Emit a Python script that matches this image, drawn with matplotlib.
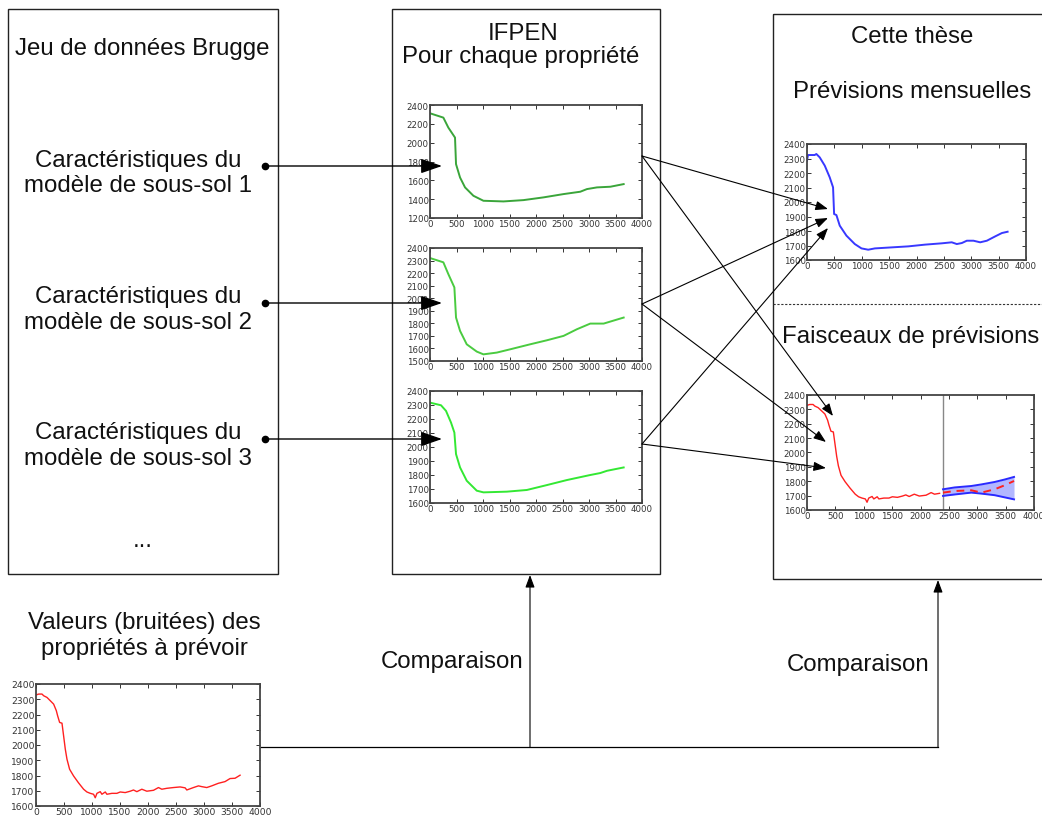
import matplotlib
matplotlib.use('Agg')
import matplotlib.pyplot as plt
from matplotlib.patches import Rectangle

W, H = 1042, 820

# - Data
# -- IFPEN model 1
m1_x = [0, 252, 346, 472, 491, 567, 661, 819, 1008, 1386, 1764, 2142, 2520, 2835, 2961, 3150, 3402, 3654]
m1_y = [2312, 2266, 2160, 2054, 1772, 1630, 1525, 1436, 1383, 1376, 1390, 1419, 1454, 1479, 1507, 1525, 1532, 1560]
# -- IFPEN model 2
m2_x = [0, 252, 346, 460, 491, 567, 693, 882, 1008, 1260, 1512, 1890, 2205, 2520, 2772, 3024, 3276, 3654]
m2_y = [2320, 2286, 2192, 2086, 1846, 1740, 1633, 1575, 1553, 1567, 1593, 1633, 1665, 1700, 1753, 1798, 1798, 1846]
# -- IFPEN model 3
m3_x = [0, 208, 302, 397, 460, 491, 567, 693, 882, 1008, 1449, 1827, 2205, 2583, 3024, 3213, 3339, 3654]
m3_y = [2317, 2298, 2258, 2174, 2103, 1949, 1854, 1759, 1688, 1676, 1681, 1693, 1728, 1764, 1800, 1814, 1830, 1854]
# -- monthly forecast (this thesis)
fc_x = [0, 18, 140, 171, 232, 324, 415, 476, 495, 537, 598, 720, 873, 995, 1118, 1240, 1545, 1850,
        2156, 2461, 2644, 2736, 2828, 2919, 3041, 3163, 3285, 3438, 3560, 3664]
fc_y = [2285, 2324, 2324, 2331, 2308, 2251, 2170, 2101, 1917, 1910, 1837, 1768, 1710, 1680, 1671, 1680, 1687, 1694,
        1706, 1715, 1722, 1710, 1717, 1733, 1733, 1722, 1733, 1763, 1786, 1795]
# -- noisy observed values
obs_x = [0, 48, 107, 137, 196, 256, 315, 363, 386, 422, 464, 493, 523, 553, 600, 671, 757, 850, 909, 969,
         1028, 1058, 1088, 1147, 1177, 1237, 1266, 1355, 1444, 1504, 1593, 1682, 1741, 1801, 1890, 1979,
         2098, 2187, 2247, 2336, 2455, 2574, 2663, 2693, 2812, 2901, 2960, 3049, 3138, 3257, 3376, 3465,
         3555, 3644]
obs_y = [2328, 2334, 2334, 2323, 2312, 2290, 2268, 2225, 2192, 2148, 2143, 2060, 1973, 1907, 1841, 1797,
         1753, 1710, 1692, 1683, 1677, 1654, 1683, 1694, 1677, 1692, 1677, 1683, 1683, 1692, 1688, 1697,
         1705, 1694, 1710, 1697, 1703, 1721, 1710, 1716, 1721, 1725, 1719, 1705, 1721, 1732, 1727, 1721,
         1732, 1749, 1760, 1780, 1782, 1802]
# -- forecast bundle after 2400 days
bundle_x = [2397, 2602, 2896, 3073, 3307, 3483, 3648]
bundle_mid = [1721, 1732, 1737, 1721, 1744, 1772, 1802]
bundle_up = [1744, 1757, 1767, 1778, 1795, 1812, 1830]
bundle_low = [1698, 1708, 1721, 1714, 1703, 1688, 1674]
cut_day = 2400

x_ticks = [0, 500, 1000, 1500, 2000, 2500, 3000, 3500, 4000]


def add_plot(fig, l, t, r, b, ymin, ystep, fs=6.2):
    ax = fig.add_axes([l / W, 1 - b / H, (r - l) / W, (b - t) / H])
    ax.set_xlim(0, 4000)
    ax.set_ylim(ymin, 2400)
    ax.set_xticks(x_ticks)
    ax.set_yticks(list(range(ymin, 2401, ystep)))
    ax.tick_params(direction='in', length=3, width=0.7, labelsize=fs, pad=1,
                   colors='#333333', top=True, right=True)
    for sp in ax.spines.values():
        sp.set_linewidth(1.3)
        sp.set_edgecolor('#444444')
    return ax


fig = plt.figure(figsize=(W / 100, H / 100), dpi=100)

# - small charts
ax = add_plot(fig, 430, 106, 642, 219, 1200, 200)
ax.plot(m1_x, m1_y, color='#3aa53a', lw=1.4)
ax = add_plot(fig, 430, 249, 642, 362, 1500, 100)
ax.plot(m2_x, m2_y, color='#4acb40', lw=1.4)
ax = add_plot(fig, 430, 392, 642, 504, 1600, 100)
ax.plot(m3_x, m3_y, color='#33e833', lw=1.4)

ax = add_plot(fig, 807, 145, 1026, 261, 1600, 100)
ax.plot(fc_x, fc_y, color='#3838ff', lw=1.4)

ax = add_plot(fig, 807, 396, 1034, 511, 1600, 100)
px = [x for x in obs_x if x <= cut_day]
ax.plot(px, obs_y[:len(px)], color='#ff2020', lw=1.0)
ax.axvline(cut_day, color='#888888', lw=1)
ax.fill_between(bundle_x, bundle_low, bundle_up, color='#aab0ff', alpha=0.9, lw=0)
ax.plot(bundle_x, bundle_up, color='#2a2aff', lw=1.4)
ax.plot(bundle_x, bundle_low, color='#2a2aff', lw=1.4)
ax.plot(bundle_x, bundle_mid, color='#ff2020', lw=1.4, ls='--', dashes=(4, 3))

ax = add_plot(fig, 36, 685, 260, 807, 1600, 100, fs=6.6)
ax.plot(obs_x, obs_y, color='#ff2020', lw=1.0)

# - overlay in pixel coordinates
ov = fig.add_axes([0, 0, 1, 1], zorder=10)
ov.set_xlim(0, W)
ov.set_ylim(H, 0)
ov.axis('off')
ov.patch.set_alpha(0)

for (l, t, r, b) in [(8, 10, 278, 575), (392, 10, 660, 575), (773, 15, 1060, 580)]:
    ov.add_patch(Rectangle((l, t), r - l, b - t, fill=False, ec='#222222', lw=1.0))
ov.plot([773, 1042], [305, 305], color='#333333', lw=0.8, ls=(0, (2, 1.5)))

txt = dict(family='Liberation Sans', fontsize=17.3, color='#111111', ha='center', va='baseline')
ov.text(142, 55, 'Jeu de données Brugge', **txt)
for i, (y1, y2) in enumerate([(167, 192), (303, 329), (439, 465)]):
    ov.text(138, y1, 'Caractéristiques du', **txt)
    ov.text(138, y2, f'modèle de sous-sol {i + 1}', **txt)
ov.text(143, 547, '...', **txt)
ov.text(523, 40, 'IFPEN', **txt)
ov.text(521, 63, 'Pour chaque propriété', **txt)
ov.text(912, 43, 'Cette thèse', **txt)
ov.text(912, 98, 'Prévisions mensuelles', **txt)
ov.text(782, 343, 'Faisceaux de prévisions', **{**txt, 'ha': 'left'})
ov.text(144, 629, 'Valeurs (bruitées) des', **txt)
ov.text(144, 655, 'propriétés à prévoir', **txt)
ov.text(452, 668, 'Comparaison', **txt)
ov.text(858, 671, 'Comparaison', **txt)

# - arrows from the dataset to IFPEN models
big = dict(arrowstyle='-|>,head_length=1.3,head_width=0.45', color='black', lw=1.0,
           shrinkA=0, shrinkB=0)
for y in [167, 304, 440]:
    ov.plot(265, y, 'o', color='black', ms=4.5)
    ov.annotate('', xy=(442, y), xytext=(265, y), arrowprops=big)

# - arrows from IFPEN models to this thesis
small = dict(arrowstyle='-|>,head_length=0.75,head_width=0.28', color='black', lw=0.8,
             shrinkA=0, shrinkB=0)
links = [((642, 157), (828, 210)), ((642, 157), (833, 417)),
         ((642, 305), (828, 219)), ((642, 305), (826, 443)),
         ((642, 445), (828, 229)), ((642, 445), (826, 469))]
for start, tip in links:
    ov.annotate('', xy=tip, xytext=start, arrowprops=small)

# - comparison links
ov.plot([261, 938], [748, 748], color='black', lw=0.9)
ov.annotate('', xy=(530, 576), xytext=(530, 748), arrowprops=small)
ov.annotate('', xy=(938, 581), xytext=(938, 748), arrowprops=small)

plt.savefig('out.png', dpi=100)
